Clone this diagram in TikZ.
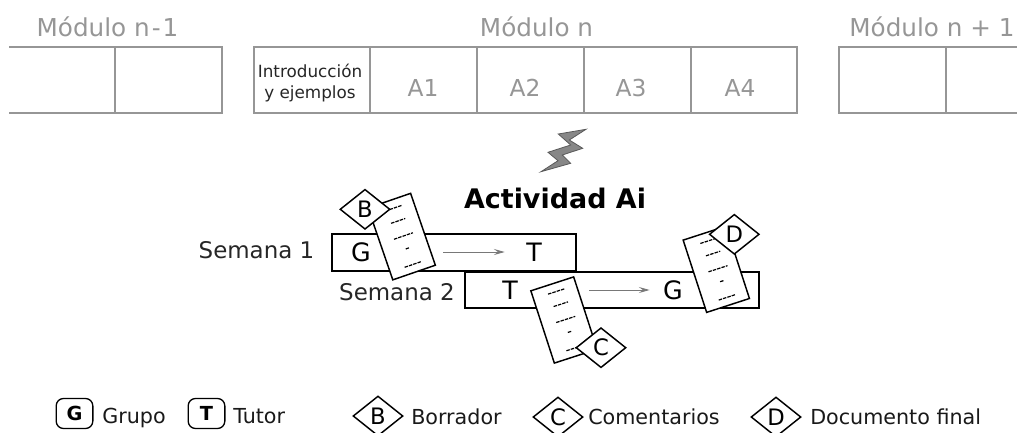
\documentclass[tikz,border=0pt]{standalone}
\usepackage{fontspec}
\setmainfont{DejaVu Sans}
\usetikzlibrary{shapes.geometric,arrows.meta}
\definecolor{gris}{RGB}{150,150,150}
\tikzset{
	modulo/.style={draw=gris,line width=1pt},
	titulo/.style={text=gris,font=\fontsize{18.5}{22}\selectfont},
	celda/.style={text=gris,font=\fontsize{17.5}{21}\selectfont},
	semana/.style={text=black!85,font=\fontsize{17.2}{21}\selectfont},
	barra/.style={draw,line width=1.1pt,fill=white},
	rol/.style={inner sep=0pt,font=\fontsize{19}{23}\selectfont},
	flecha/.style={draw=gris!80!black,line width=0.7pt,-{Stealth[length=8pt,width=4.5pt,inset=3pt]}},
	rombo/.style={diamond,draw,line width=1.1pt,fill=white,aspect=1.25,inner sep=0pt,minimum width=37.5pt,minimum height=30pt,font=\fontsize{17}{20}\selectfont},
	clave/.style={draw,line width=1pt,rounded corners=5.5pt,minimum width=27.5pt,minimum height=22.5pt,inner sep=0pt,font=\bfseries\fontsize{14.5}{17}\selectfont},
	leyenda/.style={anchor=base west,inner sep=0pt,text=black!90,font=\fontsize{15.5}{19}\selectfont},
	pics/hoja/.style={code={
		\draw [line width=1.1pt,fill=white] (-22.5,-38) rectangle (22.5,38);
		\foreach \yy/\ll in {29.5/9,16/7.5,0/10,-13/2,-30/9}
			\draw [line width=0.9pt,dash pattern=on 2.6pt off 0.8pt] (1.8-\ll,\yy) -- (1.8+\ll,\yy);
	}},
}
\begin{document}
\begin{tikzpicture}[x=0.75pt,y=0.75pt,yscale=-1,xscale=1]
	\useasboundingbox (0,0) rectangle (1017,432);

	%Module n-1
	\draw [modulo] (9,47) -- (222,47) -- (222,113) -- (9,113);
	\draw [modulo] (115,47) -- (115,113);
	%Module n
	\draw [modulo] (254,47) rectangle (797,113);
	\foreach \xx in {370,477,584,691}
		\draw [modulo] (\xx,47) -- (\xx,113);
	%Module n+1
	\draw [modulo] (1017,47) -- (839,47) -- (839,113) -- (1017,113);
	\draw [modulo] (946,47) -- (946,113);

	% Text Node
	\node [titulo] (modprev) at (107.5,26.5) {Módulo n\kern1.5pt-\kern1.5pt1};
	\node [titulo] (modcur) at (536.5,26.5) {Módulo n};
	\node [titulo] (modnext) at (932,26.5) {Módulo n + 1};
	\node [align=center,text=black!85,font=\fontsize{12.6}{15.8}\selectfont] (intro) at (310,83) {Introducción\\y ejemplos};
	\foreach \nom/\xx in {A1/423,A2/525,A3/631,A4/740}
		\node [celda] (\nom) at (\xx,88) {\nom};

	%Lightning
	\draw [fill=gris!90!black,draw=black!65,line width=0.6pt] (586,129.3) -- (558.3,134) -- (570.7,145) -- (548,152.3) -- (558,160.7) -- (541,171.7) -- (570.7,163.3) -- (562.3,155) -- (582.7,148.3) -- (569.3,140) -- cycle;
	\node [font=\bfseries\fontsize{20.2}{24}\selectfont] (actividad) at (555,198) {Actividad Ai};

	%Weeks
	\draw [barra] (332,234) rectangle (576,271);
	\draw [barra] (465,272) rectangle (759,308);
	\node [semana] (sem1) at (256.5,250) {Semana 1};
	\node [semana] (sem2) at (397,292) {Semana 2};
	\node [rol] (g1) at (361,252) {G};
	\node [rol] (t1) at (534,252) {T};
	\node [rol] (t2) at (510,290) {T};
	\node [rol] (g2) at (673,290) {G};
	\draw [flecha,shorten <=54pt,shorten >=16pt] (g1) -- (t1);
	\draw [flecha,shorten <=53.5pt,shorten >=10pt] (t2) -- (g2);

	%Sheets
	\pic [rotate=19] at (401.7,236.6) {hoja};
	\pic [rotate=18] at (564,320) {hoja};
	\pic [rotate=18] at (716.3,269.3) {hoja};
	\node [rombo] (rb) at (365,209.3) {B};
	\node [rombo] (rc) at (601,347.7) {C};
	\node [rombo] (rd) at (734.3,234.3) {D};

	%Legend
	\node [clave] (lg) at (74.5,413.5) {G};
	\node [clave] (lt) at (206.5,413.5) {T};
	\node [leyenda] (tg) at (102,423.5) {Grupo};
	\node [leyenda] (tt) at (233,423.5) {Tutor};
	\node [rombo] (lb) at (378,416) {B};
	\node [leyenda] (tb) at (411,424) {Borrador};
	\node [rombo] (lc) at (558,417) {C};
	\node [leyenda] (tc) at (588,424) {Comentarios};
	\node [rombo] (ld) at (776,417) {D};
	\node [leyenda] (td) at (810,424) {Documento final};
\end{tikzpicture}
\end{document}
